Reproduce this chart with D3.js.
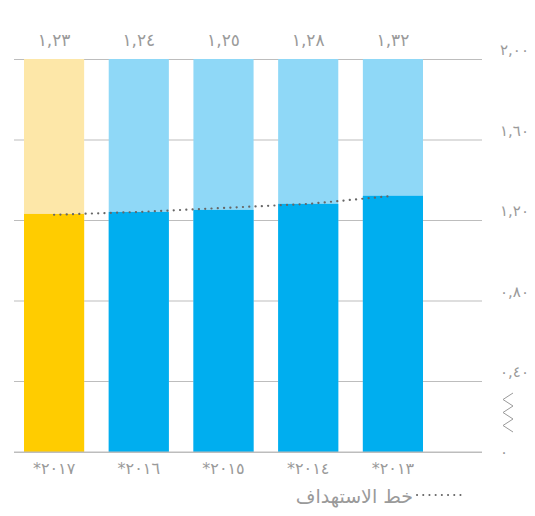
<!DOCTYPE html>
<html>
<head>
<meta charset="utf-8">
<script src="https://cdn.jsdelivr.net/npm/d3@7"></script>
<style>
  html, body { margin: 0; padding: 0; background: #fff; }
  svg { display: block; font-family: "DejaVu Sans", "Noto Sans", sans-serif; }
</style>
</head>
<body>
<svg id="chart" width="535" height="516"></svg>
<script>
// ---- data (left-to-right as drawn) ----
const categories = ["*٢٠١٧", "*٢٠١٦", "*٢٠١٥", "*٢٠١٤", "*٢٠١٣"];
const values = [1.23, 1.24, 1.25, 1.28, 1.32];
const valueLabels = ["١,٢٣", "١,٢٤", "١,٢٥", "١,٢٨", "١,٣٢"];
const highlight = [true, false, false, false, false];
const targetValues = [1.226, 1.24, 1.26, 1.28, 1.32];
const maxValue = 2.0;
const tickValues = [0, 0.4, 0.8, 1.2, 1.6, 2.0];
const tickLabels = ["٠", "٠,٤٠", "٠,٨٠", "١,٢٠", "١,٦٠", "٢,٠٠"];
const legendLabel = "خط الاستهداف";

// ---- layout ----
const svg = d3.select("#chart");
const x = d3.scaleBand().domain(categories).range([24, 423]).paddingInner(0.29).paddingOuter(0);
// broken axis: 0 -> 0.4 is compressed
const y = d3.scaleLinear().domain([0, 0.4, 2.0]).range([452, 381, 59]);

const colors = {
  yellow: "#FFCC00", yellowLight: "#FDE7A8",
  blue: "#00AEEF", blueLight: "#8FD8F7",
  grid: "#BDBDBD", text: "#9A9A9A", target: "#666666"
};

// gridlines + right labels
const axis = d3.axisRight(y)
  .tickValues(tickValues)
  .tickFormat((d, i) => tickLabels[i])
  .tickSizeInner(-(482 - 14))
  .tickSizeOuter(0)
  .tickPadding(18);
const gAxis = svg.append("g").attr("transform", "translate(482,0)").call(axis);
gAxis.select(".domain").remove();
gAxis.selectAll(".tick line").attr("stroke", colors.grid).attr("stroke-width", 1);
gAxis.selectAll(".tick text")
  .attr("fill", colors.text)
  .attr("font-size", 15)
  .attr("font-family", "DejaVu Sans, sans-serif")
  .attr("text-anchor", "start")
  .attr("dy", d => d === 0 ? "0.3em" : "-0.3em");

// axis break zigzag between 0 and 0.4
const zz = [0, 1, 2, 3, 4, 5, 6].map(i => [i % 2 === 0 ? 513 : 503, y(0.4) + 12 + i * 6.5]);
svg.append("polyline")
  .attr("points", zz.map(p => p.join(",")).join(" "))
  .attr("fill", "none").attr("stroke", colors.text).attr("stroke-width", 1);

// background bars (to max)
svg.append("g").selectAll("rect").data(categories).join("rect")
  .attr("x", d => x(d))
  .attr("width", x.bandwidth())
  .attr("y", y(maxValue))
  .attr("height", y(0) - y(maxValue))
  .attr("fill", (d, i) => highlight[i] ? colors.yellowLight : colors.blueLight);

// value bars
svg.append("g").selectAll("rect").data(values).join("rect")
  .attr("x", (d, i) => x(categories[i]))
  .attr("width", x.bandwidth())
  .attr("y", d => y(d))
  .attr("height", d => y(0) - y(d))
  .attr("fill", (d, i) => highlight[i] ? colors.yellow : colors.blue);

// baseline redraw on top
svg.append("line").attr("x1", 14).attr("x2", 482).attr("y1", y(0)).attr("y2", y(0))
  .attr("stroke", colors.grid).attr("stroke-width", 1);

// target dotted line
const line = d3.line()
  .x((d, i) => x(categories[i]) + x.bandwidth() / 2)
  .y(d => y(d));
svg.append("path")
  .datum(targetValues)
  .attr("d", line)
  .attr("fill", "none")
  .attr("stroke", colors.target)
  .attr("stroke-width", 2.2)
  .attr("stroke-linecap", "round")
  .attr("stroke-dasharray", "0.1,6.2");

// value labels on top
svg.append("g").selectAll("text").data(valueLabels).join("text")
  .attr("x", (d, i) => x(categories[i]) + x.bandwidth() / 2)
  .attr("y", 46)
  .attr("text-anchor", "middle")
  .attr("fill", colors.text)
  .attr("font-size", 17)
  .text(d => d);

// category labels
svg.append("g").selectAll("text").data(categories).join("text")
  .attr("x", d => x(d) + x.bandwidth() / 2)
  .attr("y", 474)
  .attr("text-anchor", "middle")
  .attr("fill", colors.text)
  .attr("font-size", 16)
  .text(d => d);

// legend
svg.append("line")
  .attr("x1", 417).attr("x2", 466).attr("y1", 495).attr("y2", 495)
  .attr("stroke", colors.target)
  .attr("stroke-width", 2)
  .attr("stroke-linecap", "round")
  .attr("stroke-dasharray", "0.1,6.1");
svg.append("text")
  .attr("x", 413).attr("y", 503)
  .attr("text-anchor", "end")
  .attr("fill", colors.text)
  .attr("font-size", 19)
  .text(legendLabel);
</script>
</body>
</html>
